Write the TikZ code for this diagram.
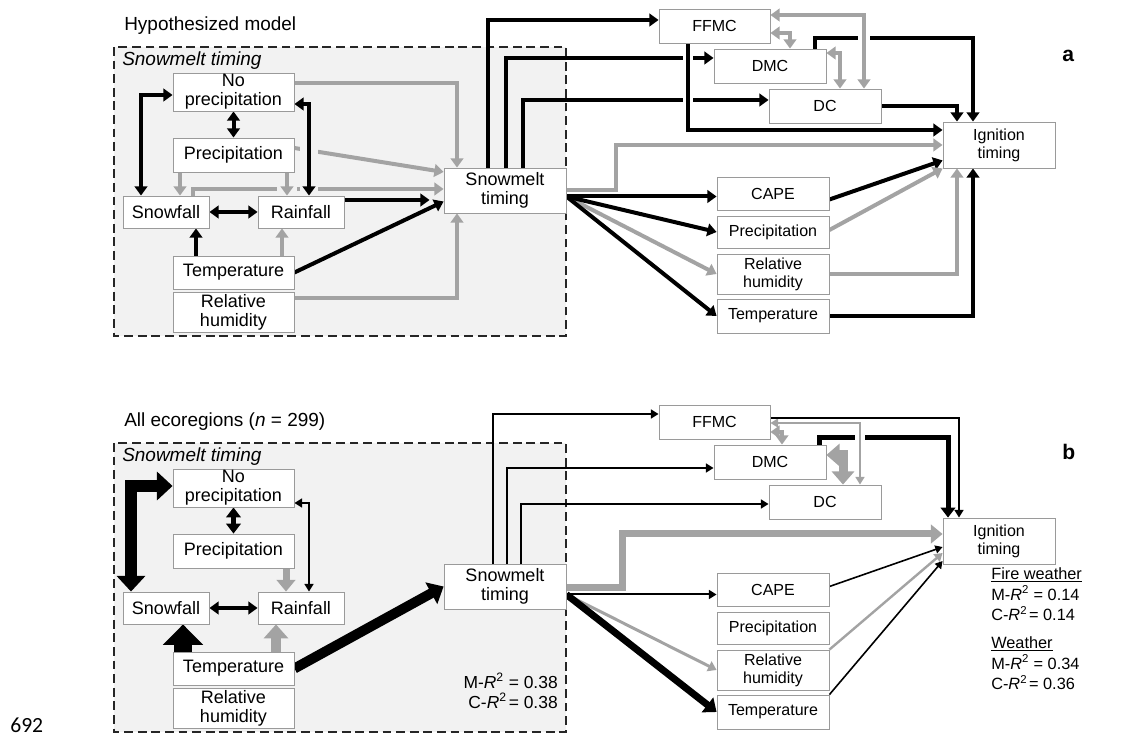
\documentclass[tikz,border=0pt]{standalone}
\usepackage{fontspec}
\setmainfont{Liberation Sans}
\newfontfamily\linenofont{Carlito}
\usetikzlibrary{arrows.meta,calc}
\definecolor{panelfill}{HTML}{F2F2F2}
\definecolor{boxline}{HTML}{9A9A9A}
\definecolor{linkgray}{HTML}{A3A3A3}
\pgfdeclarelayer{panel}
\pgfdeclarelayer{links}
\pgfsetlayers{panel,links,main}
\newcommand{\boxfont}{\fontsize{12.8}{13.5}\selectfont}
\newcommand{\wxfont}{\fontsize{11.4}{12.8}\selectfont}
\newcommand{\headfont}{\fontsize{13.5}{15}\selectfont}
\newcommand{\fitfont}{\fontsize{12.4}{14.2}\selectfont}
\newcommand{\sumfont}{\fontsize{11.6}{14.9}\selectfont}
\newcommand{\rsq}[2]{#1-\textit{R}\textsuperscript{2}#2}

\begin{document}
\begin{tikzpicture}[x=0.25mm,y=-0.25mm,
  hd/.tip={Triangle[length=1.5mm 0.8,width=1.25mm 1.9]},
  varbox/.style={draw=boxline,line width=0.6pt,fill=white,inner sep=0pt,align=center,font=\boxfont},
  wxbox/.style={varbox,font=\wxfont},
  dims/.style 2 args={minimum width=#1mm,minimum height=#2mm},
  blk/.style={draw=black,line width=#1},
  blk/.default=1mm,
  gry/.style={draw=linkgray,line width=#1},
  gry/.default=1mm,
  gapin/.style={preaction={draw=panelfill,line width=#1,-}},
  gapout/.style={preaction={draw=white,line width=#1,-}},
  panelbox/.style={draw=black!85,fill=panelfill,line width=0.9pt,dash pattern=on 2.2mm off 1.2mm},
  lbl/.style={anchor=base west,inner sep=0pt}]
  \useasboundingbox (0,0) rectangle (1133,736);

  % dashed snowmelt blocks
  \begin{pgfonlayer}{panel}
    \draw[panelbox] (114,47) rectangle (566,336);
    \draw[panelbox] (114,443) rectangle (566,732);
  \end{pgfonlayer}

  % variables, panel a (dy=0) and panel b (dy=396)
  \foreach \p/\dy in {a/0,b/396}{
    \node[varbox,dims={30.25}{9.5}] (np\p) at (233.5,{92+\dy}) {No\\precipitation};
    \node[varbox,dims={30.25}{8.5}] (pr\p) at (233.5,{155+\dy}) {Precipitation};
    \node[varbox,dims={21.5}{8}] (sf\p) at (166,{212+\dy}) {Snowfall};
    \node[varbox,dims={21.5}{8}] (rf\p) at (301,{212+\dy}) {Rainfall};
    \node[varbox,dims={30.25}{8.25}] (tp\p) at (233.5,{272.5+\dy}) {Temperature};
    \node[varbox,dims={30.25}{10}] (rh\p) at (233.5,{312+\dy}) {Relative\\humidity};
    \node[varbox,dims={30.5}{11.25}] (sm\p) at (505,{190.5+\dy}) {Snowmelt\\timing};
    \node[wxbox,dims={27.75}{8.5}] (ffmc\p) at (714.5,{26+\dy}) {FFMC};
    \node[wxbox,dims={28}{8.5}] (dmc\p) at (770,{66+\dy}) {DMC};
    \node[wxbox,dims={28}{8.5}] (dc\p) at (825,{106+\dy}) {DC};
    \node[wxbox,dims={28}{11.5}] (ig\p) at (999,{145+\dy}) {Ignition\\timing};
    \node[wxbox,dims={28}{8.25}] (cape\p) at (773,{193.5+\dy}) {CAPE};
    \node[wxbox,dims={28}{8}] (wpr\p) at (773,{232+\dy}) {Precipitation};
    \node[wxbox,dims={28}{10}] (wrh\p) at (773,{274+\dy}) {Relative\\humidity};
    \node[wxbox,dims={28}{8.5}] (wtp\p) at (773,{316+\dy}) {Temperature};
  }

  % labels
  \node[lbl,font=\headfont] (tta) at (124,31) {Hypothesized model};
  \node[lbl,font=\headfont\itshape] (sta) at (122,66) {Snowmelt timing};
  \node[lbl,font=\headfont] (ttb) at (124,427) {All ecoregions (\textit{n} = 299)};
  \node[lbl,font=\headfont\itshape] (stb) at (122,462) {Snowmelt timing};
  \node[lbl,font=\fontsize{15}{15}\selectfont\bfseries] (la) at (1062,62) {a};
  \node[lbl,font=\fontsize{15}{15}\selectfont\bfseries] (lb) at (1062,460) {b};
  \node[anchor=base east,inner sep=0pt,align=right,font=\fitfont] (fitb) at (558,708)
    {\rsq{M}{} = 0.38\\\rsq{C}{\kern0.11em} = 0.38};
  \node[lbl,align=left,font=\sumfont] (fwb) at (991,621)
    {\underline{Fire weather}\\\rsq{M}{} = 0.14\\\rsq{C}{\kern0.11em} = 0.14};
  \node[lbl,align=left,font=\sumfont] (wxb) at (991,690)
    {\underline{Weather}\\\rsq{M}{} = 0.34\\\rsq{C}{\kern0.11em} = 0.36};
  \node[lbl,font=\linenofont\fontsize{15.4}{16}\selectfont] (lineno) at (10,732) {692};

  \begin{pgfonlayer}{links}
    % panel a, inside the snowmelt block
    \draw[gry,-hd] ($(npa.east)+(0,-9)$) -| ($(sma.north)+(-48,0)$);
    \draw[gry,-hd] ($(pra.east)+(0,-7)$) -- ($(sma.west)+(0,-18.5)$);
    \draw[gry,-hd] ($(sfa.north)+(27,0)$) |- ($(sma.west)+(0,-1.5)$);
    \draw[gry,-hd] ($(rha.east)+(0,-14)$) -| ($(sma.south)+(-48,0)$);
    \draw[blk,-hd,shorten >=3.5mm] ($(rfa.east)+(0,-12)$) -- ($(sma.west)+(0,9.5)$);
    \draw[blk,-hd] (tpa.east) -- ($(sma.west)+(0,11)$);
    \draw[blk,-hd] ($(tpa.north)+(-37.5,0)$) -- ($(sfa.south)+(30,0)$);
    \draw[gry,-hd] ($(tpa.north)+(48.5,0)$) -- ($(rfa.south)+(-19,0)$);
    \draw[blk,hd-hd] (sfa.east) -- (rfa.west);
    \draw[gry,-hd] ($(pra.south)+(-53.5,0)$) -- ($(sfa.north)+(14,0)$);
    \draw[gry,-hd,gapin=5mm] ($(pra.south)+(53.5,0)$) -- ($(rfa.north)+(-14,0)$);
    \draw[blk,hd-hd] (npa.south) -- (pra.north);
    \draw[blk,hd-hd] ($(sfa.north)+(-25,0)$) |- ($(npa.west)+(0,3)$);
    \draw[blk,hd-hd,gapin=4.5mm] ($(rfa.north)+(8,0)$) |- ($(npa.east)+(0,12)$);

    % panel a, fire weather side
    \draw[blk,-hd] ($(sma.north)+(-17,0)$) |- ($(ffmca.west)+(0,-6)$);
    \draw[blk,-hd] ($(sma.north)+(1,0)$) |- ($(dmca.west)+(0,-8)$);
    \draw[blk,-hd] ($(sma.north)+(18,0)$) |- ($(dca.west)+(0,-6)$);
    \draw[gry,-hd] ($(sma.east)+(0,-0.5)$) -- ++(50,0) |- (iga.west);
    \draw[blk,-hd] ($(dmca.north)+(45,0)$) -- ++(0,-11) -| ($(iga.north)+(-26,0)$);
    \draw[blk,-hd] (dca.east) -| ($(iga.north)+(-42,0)$);
    \draw[blk,-hd,gapout=2.5mm] ($(ffmca.south)+(-26.5,0)$) |- ($(iga.west)+(0,-15)$);
    \draw[gry,hd-hd,gapout=3mm] ($(ffmca.east)+(0,-11)$) -| ($(dca.north)+(39,0)$);
    \draw[gry,hd-hd] ($(ffmca.east)+(0,7)$) -| ($(dmca.north)+(20,0)$);
    \draw[gry,hd-hd] ($(dmca.east)+(0,-13)$) -| ($(dca.north)+(15,0)$);
    \coordinate (fana) at ($(sma.east)+(0,6)$);
    \draw[gry,-hd] (fana) -- (wrha.west);
    \draw[blk,-hd] (fana) -- ($(capea.west)+(0,3)$);
    \draw[blk,-hd] (fana) -- (wpra.west);
    \draw[blk,-hd] (fana) -- (wtpa.west);
    \draw[blk,-hd] ($(capea.east)+(0,6)$) -- ($(iga.south west)+(0,-8)$);
    \draw[gry,-hd] ($(wpra.east)+(0,-2)$) -- (iga.south west);
    \draw[gry,-hd] (wrha.east) -| ($(iga.south)+(-42,0)$);
    \draw[blk,-hd] (wtpa.east) -| ($(iga.south)+(-26,0)$);

    % panel b, inside the snowmelt block
    \draw[blk=3mm,hd-hd] ($(sfb.north)+(-35,0)$) |- ($(npb.west)+(0,-2)$);
    \draw[blk=1.25mm,hd-hd] (npb.south) -- (prb.north);
    \draw[blk=0.5mm,hd-hd] ($(rfb.north)+(8,0)$) |- ($(npb.east)+(0,15)$);
    \draw[gry=1.75mm,-hd] ($(prb.south)+(52.5,0)$) -- ($(rfb.north)+(-15,0)$);
    \draw[blk,hd-hd] (sfb.east) -- (rfb.west);
    \draw[blk=4.5mm,-hd] ($(tpb.north)+(-50.5,0)$) -- ($(sfb.south)+(17,0)$);
    \draw[gry=2.5mm,-hd] ($(tpb.north)+(42.5,0)$) -- ($(rfb.south)+(-25,0)$);
    \draw[blk=2.5mm,-hd] (tpb.east) -- (smb.west);

    % panel b, fire weather side
    \draw[blk=0.5mm,-hd] ($(smb.north)+(-12,0)$) |- ($(ffmcb.west)+(0,-8)$);
    \draw[blk=0.5mm,-hd] ($(smb.north)+(2,0)$) |- ($(dmcb.west)+(0,6)$);
    \draw[blk=0.5mm,-hd] ($(smb.north)+(16,0)$) |- ($(dcb.west)+(0,2)$);
    \draw[gry=1.75mm,-hd] ($(smb.east)+(0,1.5)$) -- ++(56,0) |- ($(igb.west)+(0,-7)$);
    \draw[blk=1.25mm,-hd] ($(dmcb.north)+(49,0)$) -- ++(0,-7) -| ($(igb.north)+(-51,0)$);
    \draw[gry=0.5mm,hd-hd,gapout=2.5mm] ($(ffmcb.east)+(0,1)$) -| ($(dcb.north)+(35,0)$);
    \draw[blk=0.5mm,-hd] ($(ffmcb.east)+(0,-4)$) -| ($(igb.north)+(-40,0)$);
    \draw[gry,hd-hd] ($(ffmcb.east)+(0,10)$) -| ($(dmcb.north)+(12,0)$);
    \draw[gry=2.25mm,hd-hd] ($(dmcb.east)+(0,-7)$) -| ($(dcb.north)+(18,0)$);
    \coordinate (fanb) at ($(smb.east)+(0,8)$);
    \draw[gry=0.75mm,-hd] (fanb) -- (wrhb.west);
    \draw[blk=0.5mm,-hd] (fanb) -- ($(capeb.west)+(0,5)$);
    \draw[blk=1.75mm,-hd] (fanb) -- (wtpb.west);
    \draw[blk=0.4mm,-hd] ($(capeb.east)+(0,-3)$) -- ($(igb.west)+(0,6)$);
    \draw[gry=0.6mm,-hd] (wrhb.north east) -- ($(igb.west)+(0,12)$);
    \draw[blk=0.4mm,-hd] (wtpb.north east) -- ($(igb.west)+(0,20)$);
  \end{pgfonlayer}
\end{tikzpicture}
\end{document}
